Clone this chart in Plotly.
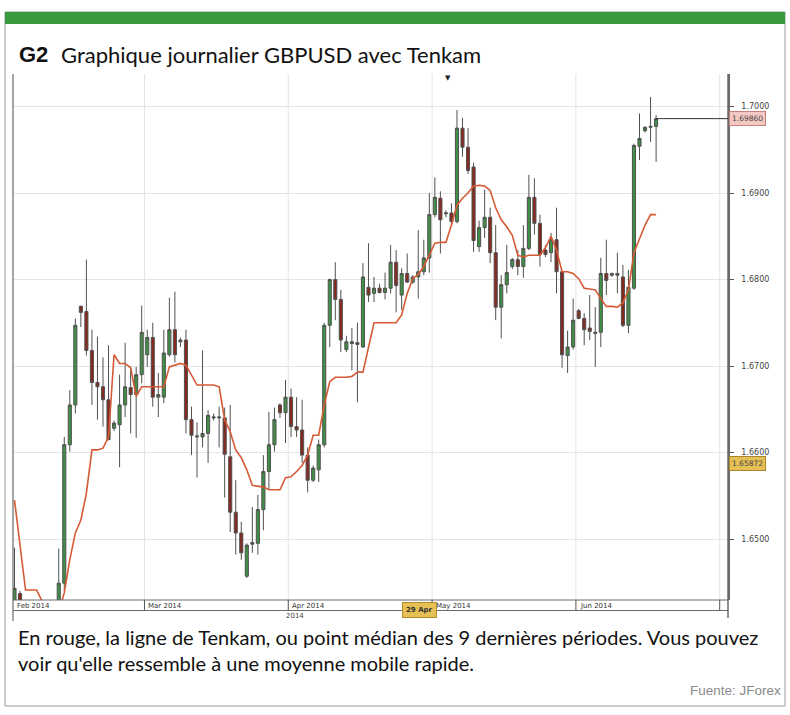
import pandas as pd
import plotly.graph_objects as go

# ---------------- data ----------------
opens = [1.6420, 1.6437, 1.6412, 1.6345, 1.6310, 1.6300, 1.6350, 1.6365, 1.6410, 1.6449,
         1.6609, 1.6655, 1.6769, 1.6763, 1.6718, 1.6681, 1.6676, 1.6661, 1.6628, 1.6632,
         1.6655, 1.6675, 1.6667, 1.6690, 1.6713, 1.6733, 1.6664, 1.6664, 1.6713, 1.6742,
         1.6728, 1.6730, 1.6638, 1.6618, 1.6618, 1.6622, 1.6640, 1.6640, 1.6640, 1.6595,
         1.6531, 1.6507, 1.6457, 1.6494, 1.6495, 1.6534, 1.6578, 1.6609, 1.6655, 1.6646,
         1.6664, 1.6630, 1.6626, 1.6597, 1.6568, 1.6580, 1.6609, 1.6747, 1.6800, 1.6777,
         1.6719, 1.6726, 1.6727, 1.6722, 1.6791, 1.6784, 1.6790, 1.6785, 1.6790, 1.6820,
         1.6782, 1.6807, 1.6797, 1.6803, 1.6809, 1.6825, 1.6875, 1.6894, 1.6876, 1.6877,
         1.6867, 1.6975, 1.6953, 1.6930, 1.6838, 1.6860, 1.6872, 1.6831, 1.6768, 1.6794,
         1.6815, 1.6823, 1.6815, 1.6836, 1.6895, 1.6865, 1.6834, 1.6831, 1.6846, 1.6809,
         1.6712, 1.6722, 1.6764, 1.6755, 1.6744, 1.6739, 1.6739, 1.6807, 1.6805, 1.6807,
         1.6803, 1.6747, 1.6790, 1.6954, 1.6972, 1.6976, 1.6977]
highs = [1.6490, 1.6440, 1.6424, 1.6360, 1.6330, 1.6365, 1.6372, 1.6420, 1.6489, 1.6618,
         1.6672, 1.6755, 1.6770, 1.6823, 1.6742, 1.6734, 1.6710, 1.6724, 1.6637, 1.6690,
         1.6727, 1.6699, 1.6699, 1.6770, 1.6742, 1.6750, 1.6692, 1.6742, 1.6779, 1.6786,
         1.6733, 1.6742, 1.6653, 1.6635, 1.6718, 1.6649, 1.6645, 1.6653, 1.6652, 1.6655,
         1.6568, 1.6520, 1.6495, 1.6537, 1.6551, 1.6597, 1.6647, 1.6652, 1.6657, 1.6684,
         1.6674, 1.6664, 1.6661, 1.6606, 1.6585, 1.6615, 1.6750, 1.6801, 1.6820, 1.6788,
         1.6735, 1.6744, 1.6750, 1.6819, 1.6842, 1.6803, 1.6795, 1.6808, 1.6840, 1.6834,
         1.6813, 1.6830, 1.6805, 1.6857, 1.6846, 1.6900, 1.6918, 1.6902, 1.6880, 1.6888,
         1.6996, 1.6987, 1.6975, 1.6935, 1.6868, 1.6904, 1.6883, 1.6863, 1.6805, 1.6840,
         1.6825, 1.6834, 1.6863, 1.6921, 1.6917, 1.6875, 1.6840, 1.6854, 1.6883, 1.6810,
         1.6741, 1.6778, 1.6766, 1.6761, 1.6782, 1.6768, 1.6825, 1.6846, 1.6808, 1.6831,
         1.6817, 1.6811, 1.6957, 1.6992, 1.6977, 1.7011, 1.6990]
lows = [1.6410, 1.6400, 1.6330, 1.6250, 1.6270, 1.6280, 1.6340, 1.6350, 1.6400, 1.6440,
        1.6601, 1.6645, 1.6745, 1.6712, 1.6655, 1.6638, 1.6630, 1.6614, 1.6625, 1.6583,
        1.6641, 1.6622, 1.6617, 1.6680, 1.6699, 1.6653, 1.6641, 1.6657, 1.6711, 1.6704,
        1.6722, 1.6622, 1.6597, 1.6571, 1.6606, 1.6588, 1.6637, 1.6606, 1.6548, 1.6508,
        1.6482, 1.6476, 1.6455, 1.6484, 1.6482, 1.6510, 1.6557, 1.6601, 1.6640, 1.6611,
        1.6618, 1.6618, 1.6588, 1.6554, 1.6566, 1.6566, 1.6606, 1.6722, 1.6753, 1.6716,
        1.6716, 1.6695, 1.6658, 1.6721, 1.6774, 1.6774, 1.6784, 1.6777, 1.6784, 1.6762,
        1.6765, 1.6796, 1.6795, 1.6778, 1.6805, 1.6808, 1.6872, 1.6830, 1.6872, 1.6864,
        1.6865, 1.6942, 1.6922, 1.6832, 1.6832, 1.6848, 1.6819, 1.6753, 1.6732, 1.6784,
        1.6812, 1.6805, 1.6802, 1.6834, 1.6852, 1.6815, 1.6826, 1.6820, 1.6784, 1.6698,
        1.6692, 1.6719, 1.6754, 1.6724, 1.6730, 1.6699, 1.6722, 1.6782, 1.6803, 1.6784,
        1.6745, 1.6738, 1.6788, 1.6938, 1.6970, 1.6959, 1.6936]
closes = [1.6443, 1.6412, 1.6345, 1.6310, 1.6300, 1.6350, 1.6365, 1.6410, 1.6449, 1.6609,
          1.6655, 1.6747, 1.6762, 1.6718, 1.6681, 1.6676, 1.6661, 1.6615, 1.6634, 1.6655,
          1.6676, 1.6667, 1.6690, 1.6739, 1.6733, 1.6664, 1.6667, 1.6715, 1.6742, 1.6713,
          1.6730, 1.6638, 1.6620, 1.6619, 1.6622, 1.6643, 1.6641, 1.6641, 1.6598, 1.6531,
          1.6507, 1.6484, 1.6493, 1.6496, 1.6534, 1.6578, 1.6609, 1.6638, 1.6646, 1.6664,
          1.6630, 1.6626, 1.6597, 1.6568, 1.6582, 1.6609, 1.6747, 1.6800, 1.6777, 1.6730,
          1.6728, 1.6728, 1.6725, 1.6803, 1.6782, 1.6790, 1.6785, 1.6790, 1.6820, 1.6793,
          1.6807, 1.6797, 1.6803, 1.6809, 1.6825, 1.6875, 1.6895, 1.6869, 1.6877, 1.6867,
          1.6975, 1.6953, 1.6926, 1.6845, 1.6860, 1.6872, 1.6831, 1.6768, 1.6794, 1.6808,
          1.6823, 1.6815, 1.6836, 1.6895, 1.6865, 1.6829, 1.6829, 1.6846, 1.6809, 1.6713,
          1.6722, 1.6753, 1.6755, 1.6742, 1.6740, 1.6738, 1.6807, 1.6799, 1.6807, 1.6805,
          1.6747, 1.6791, 1.6955, 1.6963, 1.6976, 1.6977, 1.6986]
tenkan = [1.6545, 1.6493, 1.6441, 1.6441, 1.6441, 1.6428, 1.6400, 1.6400, 1.6415, 1.6438,
          1.6476, 1.6507, 1.6522, 1.6553, 1.6603, 1.6603, 1.6605, 1.6618, 1.6713, 1.6703,
          1.6703, 1.6698, 1.6665, 1.6676, 1.6676, 1.6676, 1.6676, 1.6676, 1.6699, 1.6701,
          1.6703, 1.6701, 1.6690, 1.6678, 1.6678, 1.6678, 1.6678, 1.6676, 1.6638, 1.6624,
          1.6603, 1.6594, 1.6580, 1.6562, 1.6561, 1.6560, 1.6557, 1.6557, 1.6557, 1.6571,
          1.6572, 1.6578, 1.6585, 1.6597, 1.6620, 1.6620, 1.6655, 1.6682, 1.6687, 1.6687,
          1.6687, 1.6688, 1.6693, 1.6693, 1.6721, 1.6750, 1.6750, 1.6750, 1.6750, 1.6750,
          1.6759, 1.6784, 1.6801, 1.6806, 1.6815, 1.6828, 1.6842, 1.6843, 1.6843, 1.6863,
          1.6886, 1.6894, 1.6900, 1.6908, 1.6909, 1.6908, 1.6903, 1.6883, 1.6869, 1.6861,
          1.6851, 1.6828, 1.6826, 1.6828, 1.6828, 1.6828, 1.6837, 1.6850, 1.6834, 1.6809,
          1.6809, 1.6807, 1.6801, 1.6790, 1.6789, 1.6788, 1.6778, 1.6769, 1.6769, 1.6768,
          1.6773, 1.6788, 1.6831, 1.6848, 1.6863, 1.6875, 1.6875]
month_labels = ["Feb 2014", "Mar 2014", "Apr 2014", "May 2014", "Jun 2014", ""]
crosshair_date = "2014-04-29"
crosshair_label = "29 Apr"
crosshair_price = 1.65872

# JForex daily bars: Sunday..Friday (no Saturday)
axis_days = [d for d in pd.date_range("2014-02-02", "2014-07-04") if d.weekday() != 5]
axis_dates = [d.strftime("%Y-%m-%d") for d in axis_days]
dates = axis_dates[:len(opens)]

# month boundaries (category index - 0.5)
bounds = []
for i, d in enumerate(axis_days):
    if i == 0 or d.month != axis_days[i - 1].month:
        bounds.append(i - 0.5)

# ---------------- geometry helpers ----------------
W, H = 790, 715
L, R, T, B = 13, 62, 74, 115
PW, PH = W - L - R, H - T - B
def px(X):
    return (X - L) / PW
def py(Y):
    return (H - B - Y) / PH

XR = [-0.27, 129.0]
YR = [1.64295, 1.70376]

fig = go.Figure()
fig.add_trace(go.Candlestick(
    x=dates, open=opens, high=highs, low=lows, close=closes,
    increasing=dict(line=dict(color="#505050", width=1), fillcolor="#3f8f45"),
    decreasing=dict(line=dict(color="#505050", width=1), fillcolor="#86291f"),
    whiskerwidth=0, showlegend=False, hoverinfo="skip"))
fig.add_trace(go.Scatter(
    x=dates, y=tenkan, mode="lines",
    line=dict(color="#d65a35", width=1.6), showlegend=False, hoverinfo="skip"))

shapes = []
# outer frame and green band
shapes.append(dict(type="rect", xref="paper", yref="paper", x0=px(5), x1=px(785),
                   y0=py(706), y1=py(12), line=dict(color="#9a9a9a", width=1), layer="below"))
shapes.append(dict(type="rect", xref="paper", yref="paper", x0=px(5), x1=px(785),
                   y0=py(24), y1=py(12), fillcolor="#3a9a40", line=dict(width=0)))
# vertical month gridlines
for b in bounds:
    shapes.append(dict(type="line", xref="x", yref="paper", x0=b, x1=b, y0=0, y1=1,
                       line=dict(color="#e4e4e4", width=1), layer="below"))
# bottom date strip
for yy in (600, 610.5):
    shapes.append(dict(type="line", xref="paper", yref="paper", x0=0, x1=1,
                       y0=py(yy), y1=py(yy), line=dict(color="#6a6a6a", width=1)))
for b in bounds[1:]:
    shapes.append(dict(type="line", xref="x", yref="paper", x0=b, x1=b,
                       y0=py(610.5), y1=py(600), line=dict(color="#555", width=1)))
# left border and right axis line extension
shapes.append(dict(type="line", xref="paper", yref="paper", x0=0, x1=0,
                   y0=py(621), y1=1, line=dict(color="#6a6a6a", width=1.2)))
shapes.append(dict(type="line", xref="paper", yref="paper", x0=1, x1=1,
                   y0=py(618), y1=1, line=dict(color="#6a6a6a", width=1.5)))
# last price line
shapes.append(dict(type="line", xref="x", yref="y", x0=len(closes) - 1, x1=XR[1],
                   y0=closes[-1], y1=closes[-1], line=dict(color="#333", width=1)))

ann = []
ann.append(dict(text="<b>G2</b>", x=px(17), y=py(55), xref="paper", yref="paper",
                xanchor="left", yanchor="middle", showarrow=False,
                font=dict(family="Liberation Sans Narrow, Arial Narrow, sans-serif", size=22, color="#111")))
ann.append(dict(text="Graphique journalier GBPUSD avec Tenkam", x=px(59), y=py(55),
                xref="paper", yref="paper", xanchor="left", yanchor="middle", showarrow=False,
                font=dict(family="Lato, sans-serif", size=22, color="#111")))
ann.append(dict(text="En rouge, la ligne de Tenkam, ou point médian des 9 dernières périodes. Vous pouvez",
                x=px(16), y=py(637), xref="paper", yref="paper", xanchor="left", yanchor="middle",
                showarrow=False, font=dict(family="Lato, sans-serif", size=20, color="#111")))
ann.append(dict(text="voir qu'elle ressemble à une moyenne mobile rapide.",
                x=px(16), y=py(663), xref="paper", yref="paper", xanchor="left", yanchor="middle",
                showarrow=False, font=dict(family="Lato, sans-serif", size=20, color="#111")))
ann.append(dict(text="Fuente: JForex", x=px(783), y=py(690), xref="paper", yref="paper",
                xanchor="right", yanchor="middle", showarrow=False,
                font=dict(family="Liberation Sans Narrow, Arial Narrow, sans-serif", size=13.5, color="#8a8a8a")))
for b, lab in zip(bounds, month_labels):
    if lab:
        ann.append(dict(text=lab, x=max(b, XR[0]), y=py(605.5), xref="x", yref="paper",
                        xanchor="left", yanchor="middle", xshift=2, showarrow=False,
                        font=dict(family="DejaVu Sans", size=7, color="#333")))
ann.append(dict(text="2014", x=px(295), y=py(616), xref="paper", yref="paper",
                xanchor="center", yanchor="middle", showarrow=False,
                font=dict(family="DejaVu Sans", size=7, color="#444")))
ann.append(dict(text="<b>" + crosshair_label + "</b>", x=crosshair_date, y=py(610), xref="x", yref="paper",
                xanchor="center", yanchor="middle", xshift=-4, showarrow=False,
                bgcolor="#e6bf55", bordercolor="#b08b28", borderwidth=1, borderpad=3,
                font=dict(family="DejaVu Sans", size=7, color="#333")))
ann.append(dict(text=f"{closes[-1]:.5f}", x=1, y=closes[-1], xref="paper", yref="y",
                xanchor="left", yanchor="middle", xshift=1, showarrow=False,
                bgcolor="#f3c8c3", bordercolor="#c4827b", borderwidth=1, borderpad=2,
                font=dict(family="DejaVu Sans", size=7.5, color="#444")))
ann.append(dict(text=f"{crosshair_price:.5f}", x=1, y=crosshair_price, xref="paper", yref="y",
                xanchor="left", yanchor="middle", xshift=1, showarrow=False,
                bgcolor="#e6bf55", bordercolor="#a8862a", borderwidth=1, borderpad=2,
                font=dict(family="DejaVu Sans", size=7.5, color="#444")))
ann.append(dict(text="▼", x=dates[78], y=py(78), xref="x", yref="paper",
                xanchor="center", yanchor="middle", xshift=2, showarrow=False,
                font=dict(family="DejaVu Sans", size=7, color="#222")))

fig.update_layout(
    width=W, height=H, margin=dict(l=L, r=R, t=T, b=B),
    paper_bgcolor="white", plot_bgcolor="white", boxgap=0.2,
    shapes=shapes, annotations=ann, showlegend=False,
    xaxis=dict(type="category", range=XR, showgrid=False, showticklabels=False,
               zeroline=False, showline=False, ticks="", rangeslider=dict(visible=False),
               fixedrange=True),
    yaxis=dict(side="right", range=YR, tick0=1.64, dtick=0.01, tickformat=".4f",
               showgrid=True, gridcolor="#e4e4e4", gridwidth=1, zeroline=False,
               showline=True, linecolor="#6a6a6a", linewidth=1.5,
               ticks="outside", ticklen=4, tickcolor="#555", ticklabelstandoff=6,
               tickfont=dict(family="DejaVu Sans", size=8, color="#444")),
)

fig.write_html("out.html", post_script="document.body.style.margin='0';",
               config={"displayModeBar": False})
